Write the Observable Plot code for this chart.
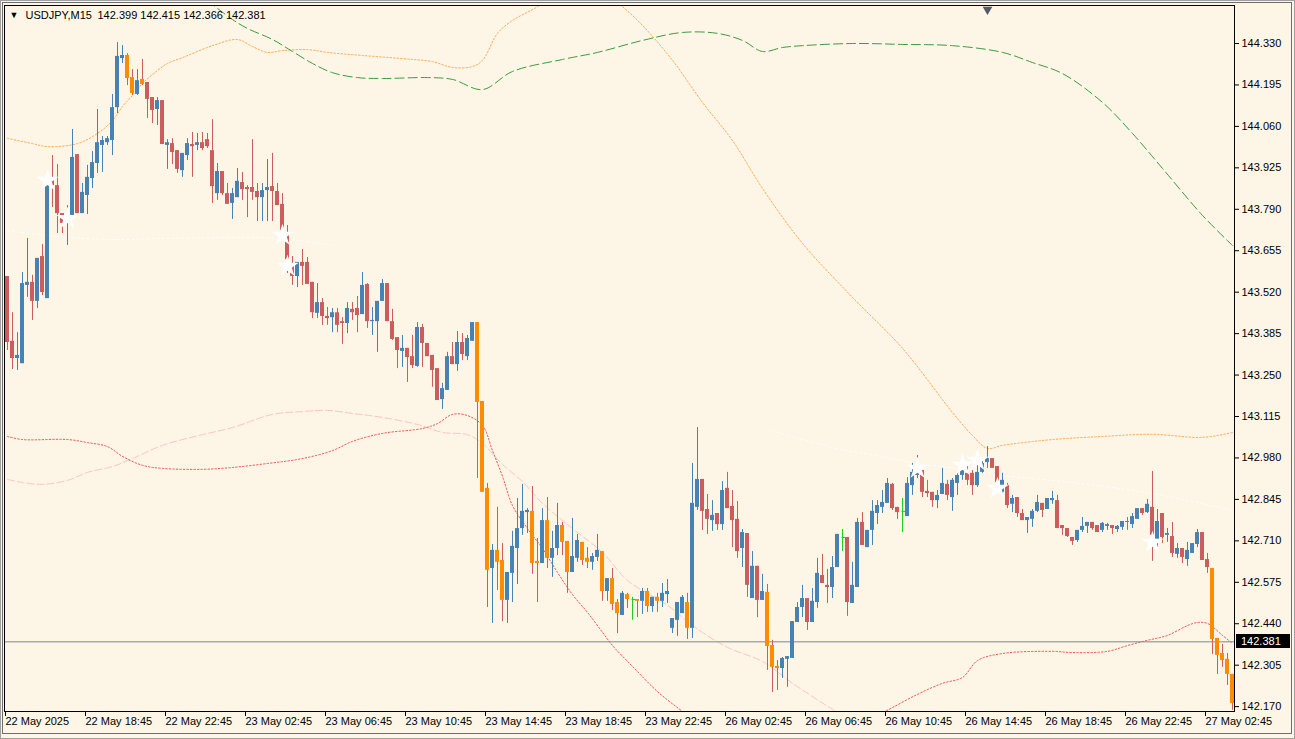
<!DOCTYPE html>
<html><head><meta charset="utf-8">
<script src="https://cdn.jsdelivr.net/npm/d3@7"></script>
<script src="https://cdn.jsdelivr.net/npm/@observablehq/plot@0.6"></script>
<style>
html,body{margin:0;padding:0;background:#FDF5E6;overflow:hidden}
#chart{width:1295px;height:739px}
</style></head><body><div id="chart"></div>
<script>
// ---- data ----
const symbolName = "USDJPY,M15";
const headerOHLC = [142.399, 142.415, 142.366, 142.381];
const bidPrice = 142.381;

const open = [143.571,143.360,143.304,143.287,143.542,143.552,143.490,143.636,143.499,143.884,
143.867,143.776,143.763,143.770,143.968,143.776,143.835,143.890,143.939,143.998,
144.007,144.014,144.121,144.281,144.291,144.219,144.164,144.213,144.203,144.154,
144.115,144.144,143.998,144.004,143.981,143.916,143.965,144.001,143.998,144.007,
144.017,143.981,143.841,143.913,143.841,143.809,143.828,143.877,143.861,143.861,
143.848,143.828,143.851,143.864,143.848,143.806,143.705,143.604,143.571,143.617,
143.617,143.552,143.451,143.486,143.441,143.437,143.453,143.424,143.418,143.464,
143.467,143.447,143.545,143.424,143.424,143.490,143.548,143.424,143.372,143.327,
143.337,143.310,143.278,143.405,143.353,143.314,143.271,143.170,143.200,143.310,
143.284,143.356,143.310,143.360,143.421,143.164,142.881,142.620,142.679,142.646,
142.516,142.604,142.685,142.750,142.802,142.806,142.643,142.636,142.776,142.653,
142.685,142.760,142.708,142.607,142.653,142.705,142.653,142.640,142.656,142.675,
142.545,142.587,142.509,142.467,142.535,142.519,142.519,142.513,142.545,142.496,
142.526,142.513,142.535,142.425,142.451,142.473,142.509,142.425,142.819,142.910,
142.812,142.776,142.799,142.763,142.881,142.822,142.780,142.685,142.734,142.522,
142.627,142.516,142.542,142.369,142.301,142.294,142.324,142.327,142.444,142.493,
142.522,142.444,142.509,142.597,142.565,142.558,142.623,142.721,142.721,142.506,
142.558,142.770,142.688,142.744,142.799,142.819,142.832,142.894,142.819,142.806,
142.789,142.890,142.923,142.939,142.871,142.868,142.841,142.861,142.894,142.851,
142.897,142.923,142.930,142.930,142.890,142.933,142.965,142.978,142.952,142.868,
142.890,142.829,142.851,142.799,142.776,142.780,142.806,142.832,142.812,142.841,
142.841,142.760,142.750,142.721,142.711,142.744,142.757,142.770,142.760,142.744,
142.757,142.760,142.747,142.754,142.773,142.763,142.780,142.815,142.802,142.819,
142.715,142.799,142.728,142.724,142.666,142.685,142.649,142.669,142.698,142.737,
142.649,142.620,142.392,142.343,142.324,142.275];

const high = [143.571,143.453,143.388,143.584,143.695,143.575,143.630,143.675,143.871,143.965,
143.936,143.776,143.802,144.050,143.968,143.874,143.933,143.978,144.115,144.027,
144.027,144.164,144.333,144.323,144.297,144.245,144.245,144.278,144.203,144.154,
144.154,144.144,144.017,144.020,143.981,143.972,144.020,144.040,144.037,144.040,
144.037,144.082,143.939,143.913,143.874,143.858,143.923,143.910,143.867,144.017,
143.874,143.874,143.952,143.972,143.874,143.841,143.737,143.636,143.617,143.659,
143.633,143.552,143.548,143.499,143.470,143.467,143.467,143.437,143.486,143.486,
143.506,143.584,143.548,143.470,143.490,143.561,143.548,143.464,143.372,143.379,
143.337,143.379,143.421,143.415,143.353,143.314,143.271,143.223,143.324,143.356,
143.392,143.385,143.379,143.421,143.421,143.164,142.897,142.698,142.819,142.701,
142.607,142.741,142.848,142.894,142.815,142.887,142.718,142.815,142.851,142.741,
142.832,142.770,142.708,142.783,142.731,142.705,142.688,142.669,142.731,142.675,
142.587,142.620,142.519,142.545,142.539,142.526,142.519,142.555,142.555,142.526,
142.539,142.571,142.584,142.457,142.509,142.532,142.539,142.962,143.079,142.910,
142.861,142.841,142.799,142.903,142.933,142.874,142.838,142.747,142.734,142.675,
142.627,142.601,142.568,142.386,142.320,142.330,142.333,142.447,142.509,142.565,
142.522,142.555,142.653,142.666,142.617,142.659,142.731,142.747,142.721,142.640,
142.783,142.802,142.744,142.841,142.841,142.874,142.913,142.897,142.819,142.848,
142.916,142.962,142.988,142.939,142.907,142.868,142.874,142.946,142.907,142.913,
142.939,142.972,142.965,142.939,142.955,142.972,143.017,142.978,142.952,142.930,
142.897,142.858,142.851,142.812,142.786,142.812,142.858,142.832,142.848,142.871,
142.858,142.760,142.750,142.721,142.744,142.786,142.770,142.770,142.760,142.770,
142.767,142.760,142.760,142.773,142.786,142.799,142.815,142.815,142.845,142.936,
142.812,142.799,142.750,142.770,142.701,142.685,142.705,142.701,142.747,142.737,
142.669,142.620,142.392,142.373,142.343,142.275];

const low = [143.330,143.268,143.265,143.287,143.503,143.428,143.467,143.509,143.499,143.796,
143.711,143.711,143.672,143.770,143.776,143.776,143.773,143.858,143.907,143.910,
143.998,143.965,144.102,144.265,144.193,144.161,144.161,144.193,144.086,144.069,
144.063,144.001,143.920,143.936,143.907,143.894,143.949,143.894,143.981,143.981,
143.988,143.809,143.819,143.835,143.806,143.757,143.828,143.819,143.763,143.819,
143.750,143.750,143.750,143.750,143.802,143.721,143.581,143.542,143.535,143.542,
143.545,143.434,143.434,143.412,143.412,143.388,143.388,143.350,143.385,143.428,
143.388,143.447,143.402,143.379,143.324,143.490,143.424,143.363,143.271,143.275,
143.226,143.271,143.275,143.275,143.310,143.210,143.167,143.138,143.200,143.284,
143.262,143.297,143.297,143.360,142.913,142.868,142.493,142.441,142.548,142.447,
142.441,142.509,142.568,142.728,142.734,142.601,142.509,142.636,142.620,142.591,
142.662,142.662,142.539,142.607,142.640,142.630,142.620,142.614,142.643,142.513,
142.513,142.483,142.408,142.467,142.490,142.451,142.460,142.470,142.477,142.477,
142.477,142.493,142.506,142.408,142.399,142.473,142.389,142.392,142.809,142.744,
142.731,142.741,142.744,142.744,142.815,142.688,142.653,142.623,142.526,142.522,
142.460,142.516,142.288,142.216,142.223,142.262,142.233,142.327,142.444,142.460,
142.418,142.444,142.490,142.571,142.506,142.522,142.623,142.675,142.464,142.506,
142.558,142.695,142.688,142.695,142.763,142.799,142.832,142.809,142.780,142.737,
142.789,142.858,142.913,142.851,142.851,142.819,142.815,142.861,142.841,142.806,
142.858,142.907,142.890,142.858,142.884,142.930,142.946,142.946,142.897,142.858,
142.815,142.802,142.786,142.776,142.734,142.754,142.802,142.786,142.812,142.829,
142.750,142.728,142.721,142.695,142.705,142.737,142.734,142.744,142.737,142.737,
142.744,142.731,142.737,142.744,142.744,142.750,142.780,142.793,142.799,142.643,
142.688,142.701,142.705,142.656,142.653,142.636,142.627,142.669,142.688,142.646,
142.604,142.340,142.275,142.298,142.239,142.158];

const close = [143.356,143.304,143.314,143.548,143.552,143.490,143.630,143.519,143.871,143.867,
143.776,143.744,143.773,143.959,143.776,143.845,143.894,143.942,144.007,144.014,
144.020,144.121,144.288,144.291,144.216,144.167,144.209,144.196,144.148,144.112,
144.144,144.001,144.007,143.975,143.920,143.972,144.004,143.994,144.007,143.988,
143.994,143.864,143.913,143.841,143.806,143.841,143.881,143.854,143.854,143.845,
143.828,143.851,143.861,143.848,143.802,143.721,143.626,143.571,143.617,143.604,
143.545,143.453,143.486,143.441,143.434,143.453,143.412,143.418,143.467,143.453,
143.444,143.542,143.424,143.428,143.490,143.548,143.424,143.366,143.330,143.337,
143.307,143.281,143.405,143.353,143.310,143.265,143.167,143.206,143.310,143.284,
143.356,143.317,143.369,143.421,143.161,142.868,142.614,142.679,142.640,142.516,
142.607,142.692,142.750,142.806,142.809,142.636,142.636,142.776,142.653,142.685,
142.760,142.705,142.607,142.659,142.711,142.646,142.640,142.659,142.679,142.545,
142.587,142.503,142.473,142.539,142.519,142.519,142.513,142.545,142.496,142.526,
142.513,142.539,142.545,142.457,142.509,142.526,142.425,142.832,142.910,142.806,
142.780,142.793,142.763,142.874,142.815,142.776,142.675,142.737,142.565,142.627,
142.516,142.545,142.366,142.298,142.294,142.327,142.333,142.447,142.493,142.522,
142.444,142.513,142.604,142.571,142.558,142.623,142.731,142.721,142.509,142.565,
142.770,142.695,142.744,142.806,142.825,142.835,142.897,142.815,142.802,142.806,
142.897,142.933,142.952,142.868,142.864,142.841,142.858,142.897,142.858,142.907,
142.923,142.946,142.907,142.890,142.933,142.962,142.978,142.946,142.900,142.907,
142.825,142.848,142.799,142.776,142.786,142.806,142.835,142.809,142.848,142.848,
142.750,142.750,142.724,142.708,142.744,142.757,142.770,142.750,142.737,142.767,
142.763,142.750,142.757,142.773,142.770,142.789,142.815,142.799,142.829,142.728,
142.773,142.721,142.734,142.669,142.685,142.656,142.679,142.701,142.737,142.646,
142.623,142.389,142.337,142.320,142.275,142.180];

// bars whose bodies are painted orange
const highlighted = [24,25,27,94,95,96,98,99,105,106,108,111,112,115,116,119,121,122,124,126,128,130,136,152,153,154,241,242,243,244,245];

const timeTickIndex = [0,16,32,48,64,80,96,112,128,144,160,176,192,208,224,240];
const timeTickLabels = ["22 May 2025","22 May 18:45","22 May 22:45","23 May 02:45","23 May 06:45","23 May 10:45","23 May 14:45","23 May 18:45","23 May 22:45","26 May 02:45","26 May 06:45","26 May 10:45","26 May 14:45","26 May 18:45","26 May 22:45","27 May 02:45"];
const priceTicks = [142.170,142.305,142.440,142.575,142.710,142.845,142.980,143.115,143.250,143.385,143.520,143.655,143.790,143.925,144.060,144.195,144.330];

// indicator lines (bar index, price)
const slowMaIdx = [40,45,48,53,57,61,65,70,75,84,89,95,101,111,118,127,135,142,147,151,155,159,169,179,189,199,205,211,219,225,231,239,245];
const slowMaVal = [144.470,144.408,144.379,144.343,144.304,144.265,144.235,144.219,144.216,144.219,144.213,144.180,144.239,144.278,144.301,144.340,144.366,144.363,144.340,144.304,144.317,144.323,144.330,144.327,144.323,144.301,144.268,144.232,144.138,144.037,143.923,143.770,143.672];
const upperIdx = [0,5,8,14,18,21,23,25,27,30,32,35,41,46,49,52,55,60,64,71,81,85,89,93,95,98,101,106,112,120,123,127,133,139,145,151,159,169,179,189,193,196,199,209,219,229,239,245];
const upperVal = [144.021,144.004,143.994,144.004,144.037,144.079,144.125,144.161,144.200,144.242,144.265,144.284,144.323,144.343,144.320,144.301,144.307,144.310,144.301,144.291,144.278,144.271,144.252,144.255,144.275,144.363,144.405,144.450,144.519,144.486,144.450,144.389,144.275,144.138,144.014,143.858,143.679,143.503,143.337,143.128,143.053,143.011,143.021,143.040,143.050,143.057,143.047,143.063];
const lowerIdx = [0,3,12,16,20,23,27,31,39,45,52,59,65,69,75,83,86,89,92,95,97,99,101,104,107,110,113,116,119,121,125,130,135,140,150,165,174,177,182,187,191,194,199,209,213,220,224,228,232,236,238,240,243,245];
const lowerVal = [143.050,143.040,143.040,143.030,143.017,142.985,142.956,142.946,142.943,142.949,142.962,142.978,143.004,143.034,143.060,143.076,143.092,143.122,143.118,143.086,143.004,142.920,142.825,142.750,142.685,142.607,142.535,142.477,142.412,142.369,142.301,142.219,142.154,142.092,142.027,142.060,142.141,142.167,142.210,142.246,142.265,142.320,142.343,142.350,142.346,142.350,142.369,142.386,142.402,142.434,142.444,142.441,142.402,142.376];
const midIdx = [0,3,7,12,16,21,25,31,39,45,53,59,64,69,75,82,87,92,95,99,103,107,113,119,124,132,137,144,151,157,165,172];
const midVal = [142.910,142.900,142.894,142.907,142.933,142.952,142.978,143.021,143.056,143.079,143.122,143.131,143.135,143.125,143.112,143.089,143.063,143.056,143.027,142.959,142.903,142.832,142.750,142.672,142.581,142.500,142.434,142.363,142.317,142.246,142.161,142.092];
const whiteIdxA = [0,10,20,32,45,55,65];
const whiteValA = [143.721,143.701,143.692,143.695,143.698,143.695,143.672];
const whiteIdxB = [153,165,177,182,191,199,213,229,245];
const whiteValB = [143.069,143.014,142.978,142.962,142.943,142.923,142.900,142.864,142.809];

const starIdx = [8,12,55,56,182,191,194,198,229];
const starVal = [143.884,143.760,143.705,143.604,142.946,142.956,142.972,142.881,142.705];
const shiftMarkIdx = 196;

// ---- build ----
const UP = "#4682B4", DOWN = "#CD5C5C", HL = "#FF8C00", DOJI = "#22CC22";
const bars = open.map((o, i) => {
  const c = close[i];
  const top = Math.max(o, c);
  let bot = Math.min(o, c);
  if (top - bot < 0.0033) bot = top - 0.0033;
  const kind = o === c ? "doji" : (c > o ? "up" : "down");
  const wick = kind === "up" ? UP : DOWN;
  const body = kind === "up" ? UP : (highlighted.includes(i) ? HL : DOWN);
  return {i, o, h: high[i], l: low[i], c, top, bot, kind, wick, body};
});
const candles = bars.filter(d => d.kind !== "doji");
const dojis = bars.filter(d => d.kind === "doji");
const pts = (idx, val) => idx.map((i, k) => ({i, p: val[k]}));
const stars = pts(starIdx, starVal);

const lineOpts = (stroke, dash, extra = {}) => ({x: "i", y: "p", stroke, strokeWidth: 1, strokeDasharray: dash, curve: "catmull-rom", clip: true, ...extra});

const plot = Plot.plot({
  width: 1295, height: 739,
  marginLeft: 4, marginRight: 61, marginTop: 5, marginBottom: 28,
  style: {background: "#FDF5E6", fontFamily: "'Liberation Sans', Arial, sans-serif", fontSize: "11px", color: "#000"},
  x: {type: "linear", domain: [-0.6, 245.4]},
  y: {domain: [142.1541, 144.4538]},
  color: {type: "identity"},
  marks: [
    Plot.line(pts(whiteIdxA, whiteValA), lineOpts("#ffffff", "2,3")),
    Plot.line(pts(whiteIdxB, whiteValB), lineOpts("#ffffff", "2,3")),
    Plot.line(pts(midIdx, midVal), lineOpts("#FFC4C4", "7,3")),
    Plot.line(pts(upperIdx, upperVal), lineOpts("#FFA040", "1.5,2", {strokeOpacity: 0.9})),
    Plot.line(pts(lowerIdx, lowerVal), lineOpts("#F03A3A", "1.5,2", {strokeOpacity: 0.85})),
    Plot.line(pts(slowMaIdx, slowMaVal), lineOpts("#3E9A3E", "9,4")),
    Plot.ruleY([bidPrice], {stroke: "#7A8694", strokeWidth: 1}),
    Plot.ruleX(candles, {x: "i", y1: "l", y2: "h", stroke: "wick", strokeWidth: 1, clip: true}),
    Plot.ruleX(candles, {x: "i", y1: "bot", y2: "top", stroke: "body", strokeWidth: 4, dx: -0.5, clip: true}),
    Plot.ruleX(dojis, {x: "i", y1: "l", y2: "h", stroke: DOJI, strokeWidth: 1, clip: true}),
    Plot.ruleY(dojis, {x1: d => d.i - 0.1, x2: d => d.i + 0.6, y: "c", stroke: DOJI, strokeWidth: 1, clip: true}),
    Plot.dot(stars, {x: "i", y: "p", symbol: "star", r: 7, fill: "#ffffff", stroke: "none"}),
    Plot.dot([shiftMarkIdx], {x: d => d, frameAnchor: "top", symbol: "triangle", rotate: 180, r: 3.6, fill: "#4F5B66", dy: 4}),
    Plot.frame({stroke: "#000"}),
    Plot.axisY({anchor: "right", ticks: priceTicks, tickFormat: d => d.toFixed(3), tickSize: 4, tickPadding: 3, fontSize: 11, label: null}),
    Plot.axisX({anchor: "bottom", ticks: timeTickIndex, tickFormat: d => timeTickLabels[timeTickIndex.indexOf(d)], tickSize: 5, tickPadding: 1, textAnchor: "start", dx: -2, fontSize: 11, label: null}),
    Plot.text(["\u25BC"], {frameAnchor: "top-left", dx: 5, dy: 10, fontSize: 9, fill: "#000", textAnchor: "start", lineAnchor: "middle"}),
    Plot.text([symbolName], {frameAnchor: "top-left", dx: 21, dy: 10, fontSize: 11, fill: "#000", textAnchor: "start", lineAnchor: "middle"}),
    Plot.text([headerOHLC.map(v => v.toFixed(3)).join(" ")], {frameAnchor: "top-left", dx: 93, dy: 10, fontSize: 11, fill: "#000", textAnchor: "start", lineAnchor: "middle"})
  ]
});

// bid price label on the price axis
const svg = d3.select(plot);
const yb = plot.scale("y").apply(bidPrice);
const g = svg.append("g");
g.append("rect").attr("x", 1236).attr("y", Math.round(yb) - 7).attr("width", 54).attr("height", 14).attr("fill", "#000");
g.append("text").attr("x", 1241).attr("y", Math.round(yb) + 4).attr("text-anchor", "start").attr("fill", "#fff").attr("font-size", 11).text(bidPrice.toFixed(3));
// window border
svg.append("rect").attr("x", 0.5).attr("y", 0.5).attr("width", 1294).attr("height", 738).attr("fill", "none").attr("stroke", "#A0A0A0");
svg.append("rect").attr("x", 2.5).attr("y", 2.5).attr("width", 1289).attr("height", 731).attr("fill", "none").attr("stroke", "#6E6E6E");

document.getElementById("chart").appendChild(plot);
</script></body></html>
